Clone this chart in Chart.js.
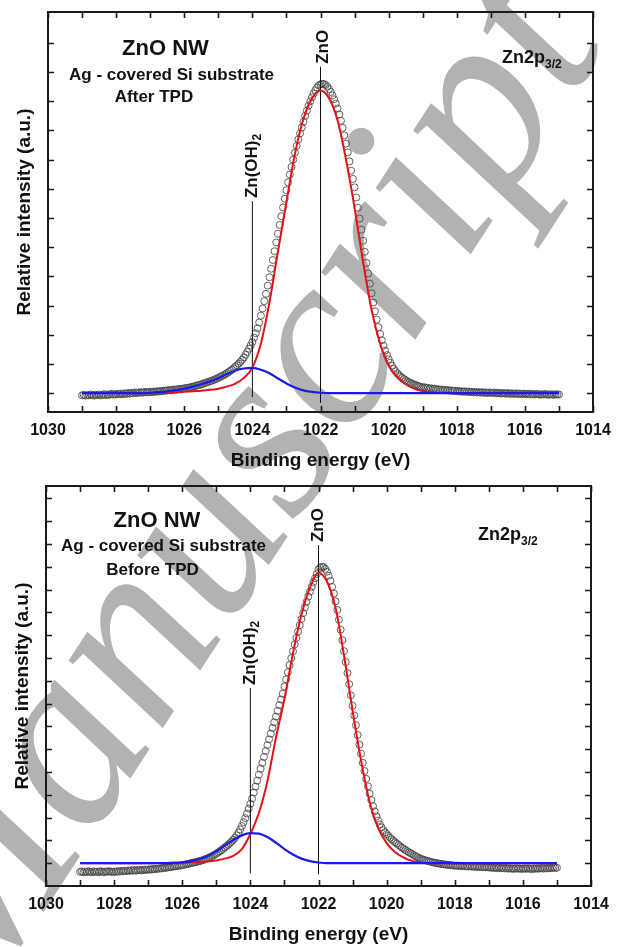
<!DOCTYPE html>
<html>
<head>
<meta charset="utf-8">
<script src="https://cdn.jsdelivr.net/npm/chart.js@4.4.1/dist/chart.umd.min.js"></script>
<style>
  html, body { margin: 0; padding: 0; background: #fff; }
  #page { position: relative; width: 622px; height: 947px; overflow: hidden; }
  #mark { position: absolute; left: 0; top: 0; }
  .box { position: absolute; left: 0; width: 622px; }
  #topBox { top: 0; height: 470px; }
  #botBox { top: 470px; height: 477px; }
</style>
</head>
<body>
<div id="page">
  <canvas id="mark" width="622" height="947"></canvas>
  <div class="box" id="topBox"><canvas id="topChart"></canvas></div>
  <div class="box" id="botBox"><canvas id="botChart"></canvas></div>
</div>
<script>
const FONT = '"Liberation Sans", Arial, sans-serif';

// measured spectrum: one point every 0.05 eV from 1029 eV down to 1015 eV
const scanStart = 1029;
const scanStep = 0.05;

// after TPD (upper panel), rows of 1 eV
const afterCounts = [
  -0.08,-0.06,-0.09,-0.07,-0.08,-0.05,-0.07,-0.09,-0.06,-0.07,-0.05,-0.08,-0.06,-0.04,-0.07,-0.05,-0.06,-0.03,-0.05,-0.04,
  -0.05,-0.03,-0.04,-0.02,-0.04,-0.01,-0.03,0.00,-0.02,0.01,-0.01,0.02,0.00,0.01,0.03,0.01,0.02,0.04,0.02,0.03,
  0.04,0.03,0.05,0.04,0.06,0.05,0.07,0.06,0.08,0.08,0.09,0.10,0.09,0.11,0.12,0.11,0.13,0.14,0.13,0.15,
  0.16,0.17,0.18,0.19,0.20,0.22,0.23,0.25,0.27,0.28,0.30,0.32,0.34,0.36,0.38,0.40,0.42,0.44,0.47,0.49,
  0.52,0.55,0.58,0.61,0.64,0.68,0.72,0.76,0.80,0.85,0.90,0.95,1.01,1.07,1.14,1.22,1.31,1.41,1.52,1.63,
  1.75,1.90,2.05,2.22,2.42,2.65,2.90,3.15,3.40,3.68,3.97,4.26,4.56,4.86,5.16,5.46,5.76,6.06,6.36,6.66,
  6.95,7.22,7.49,7.75,8.00,8.24,8.47,8.69,8.90,9.10,9.30,9.50,9.68,9.85,10.00,10.14,10.27,10.38,10.47,10.54,
  10.58,10.60,10.59,10.56,10.50,10.42,10.32,10.20,10.07,9.92,9.75,9.55,9.33,9.09,8.83,8.55,8.25,7.94,7.62,7.34,
  7.05,6.70,6.35,5.98,5.60,5.22,4.84,4.46,4.10,3.75,3.42,3.10,2.80,2.52,2.26,2.02,1.81,1.62,1.45,1.30,
  1.16,1.04,0.93,0.83,0.75,0.68,0.62,0.57,0.52,0.48,0.44,0.40,0.37,0.34,0.32,0.29,0.27,0.25,0.23,0.21,
  0.19,0.20,0.17,0.18,0.15,0.16,0.14,0.15,0.12,0.13,0.11,0.12,0.10,0.11,0.09,0.10,0.08,0.09,0.07,0.08,
  0.06,0.07,0.05,0.06,0.04,0.06,0.04,0.05,0.03,0.04,0.02,0.04,0.02,0.03,0.01,0.03,0.01,0.02,0.00,0.02,
  0.01,0.00,0.02,-0.01,0.01,0.00,-0.02,0.00,-0.01,-0.02,0.00,-0.03,-0.01,-0.02,-0.03,-0.01,-0.03,-0.02,-0.04,-0.02,
  -0.03,-0.04,-0.02,-0.05,-0.03,-0.04,-0.05,-0.03,-0.04,-0.06,-0.04,-0.05,-0.03,-0.05,-0.06,-0.04,-0.05,-0.06,-0.04,-0.05,
  -0.05
];

// before TPD (lower panel)
const beforeCounts = [
  -0.38,-0.36,-0.40,-0.37,-0.39,-0.35,-0.38,-0.40,-0.36,-0.38,-0.37,-0.39,-0.35,-0.37,-0.40,-0.36,-0.38,-0.35,-0.37,-0.39,
  -0.37,-0.38,-0.35,-0.37,-0.34,-0.36,-0.33,-0.35,-0.32,-0.34,-0.31,-0.33,-0.30,-0.33,-0.31,-0.29,-0.32,-0.30,-0.28,-0.30,
  -0.28,-0.27,-0.28,-0.25,-0.26,-0.24,-0.25,-0.22,-0.23,-0.20,-0.21,-0.19,-0.18,-0.17,-0.16,-0.14,-0.14,-0.12,-0.11,-0.10,
  -0.09,-0.07,-0.05,-0.04,-0.02,0.00,0.02,0.03,0.05,0.07,0.09,0.11,0.13,0.16,0.19,0.22,0.25,0.29,0.33,0.37,
  0.42,0.47,0.52,0.57,0.63,0.69,0.75,0.81,0.88,0.95,1.03,1.12,1.22,1.34,1.48,1.63,1.80,1.98,2.18,2.39,
  2.60,2.84,3.10,3.36,3.62,3.88,4.14,4.40,4.66,4.92,5.18,5.43,5.68,5.93,6.18,6.43,6.68,6.93,7.18,7.43,
  7.75,8.06,8.37,8.68,8.99,9.29,9.59,9.88,10.16,10.44,10.71,10.97,11.22,11.46,11.69,11.91,12.12,12.32,12.50,12.68,
  12.88,12.96,13.00,12.98,12.90,12.78,12.60,12.38,12.12,11.82,11.48,11.10,10.68,10.24,9.78,9.30,8.82,8.34,7.85,7.36,
  6.90,6.48,6.05,5.62,5.20,4.80,4.40,4.04,3.70,3.37,3.05,2.77,2.50,2.27,2.05,1.87,1.70,1.57,1.45,1.36,
  1.28,1.20,1.12,1.05,0.98,0.92,0.86,0.80,0.74,0.68,0.63,0.58,0.53,0.48,0.44,0.40,0.35,0.31,0.27,0.23,
  0.20,0.17,0.15,0.12,0.10,0.08,0.06,0.04,0.02,0.01,-0.01,-0.02,-0.03,-0.05,-0.05,-0.07,-0.07,-0.09,-0.08,-0.10,
  -0.11,-0.10,-0.12,-0.11,-0.13,-0.12,-0.14,-0.13,-0.15,-0.13,-0.15,-0.14,-0.16,-0.15,-0.17,-0.15,-0.17,-0.16,-0.18,-0.17,
  -0.18,-0.20,-0.18,-0.21,-0.19,-0.22,-0.20,-0.22,-0.21,-0.23,-0.21,-0.24,-0.22,-0.24,-0.23,-0.25,-0.22,-0.24,-0.23,-0.25,
  -0.24,-0.23,-0.25,-0.22,-0.24,-0.26,-0.23,-0.25,-0.22,-0.24,-0.23,-0.21,-0.24,-0.22,-0.23,-0.20,-0.22,-0.21,-0.19,-0.21,
  -0.20
];

// fitted components
const fitEnergy = [1029, 1027.5, 1027.25, 1027, 1026.75, 1026.5, 1026.25, 1026, 1025.75, 1025.5,
  1025.25, 1025, 1024.75, 1024.5, 1024.25, 1024, 1023.75, 1023.5, 1023.25, 1023,
  1022.75, 1022.5, 1022.25, 1022, 1021.75, 1021.5, 1021.25, 1021, 1020.75, 1020.5,
  1020.25, 1020, 1019.75, 1019.5, 1019.25, 1019, 1018.75, 1018.5, 1018, 1015];
const afterZnO = [0, 0, 0, 0, 0.005, 0.01, 0.025, 0.04, 0.06, 0.08,
  0.11, 0.15, 0.22, 0.32, 0.52, 0.87, 1.7, 3.1, 4.85, 6.55,
  8.2, 9.4, 10.1, 10.37, 10.1, 9.35, 8.0, 6.35, 4.5, 2.85,
  1.7, 0.95, 0.55, 0.3, 0.15, 0.06, 0.02, 0, 0, 0];
const afterZnOH = [0, 0, 0, 0.01, 0.03, 0.06, 0.1, 0.15, 0.22, 0.3,
  0.4, 0.51, 0.65, 0.77, 0.84, 0.86, 0.8, 0.68, 0.5, 0.33,
  0.19, 0.09, 0.04, 0.01, 0, 0, 0, 0, 0, 0,
  0, 0, 0, 0, 0, 0, 0, 0, 0, 0];
const beforeZnO = [0, 0, 0, 0, 0.005, 0.01, 0.02, 0.03, 0.04, 0.05,
  0.08, 0.12, 0.2, 0.32, 0.62, 1.28, 2.2, 3.6, 5.5, 7.2,
  9.2, 10.9, 12.1, 12.73, 12.35, 11.2, 9.1, 6.7, 4.5, 2.7,
  1.55, 0.88, 0.48, 0.25, 0.1, 0.03, 0, 0, 0, 0];
const beforeZnOH = [0, 0, 0, 0, 0, 0, 0.01, 0.03, 0.08, 0.17,
  0.32, 0.52, 0.77, 1.02, 1.22, 1.32, 1.3, 1.15, 0.9, 0.62,
  0.38, 0.2, 0.09, 0.03, 0, 0, 0, 0, 0, 0,
  0, 0, 0, 0, 0, 0, 0, 0, 0, 0];

// peak position markers: Zn(OH)2, ZnO
const markerEnergy = [1024, 1022];
const markerNames = ['Zn(OH)', 'ZnO'];
const afterMarkerTop = [6.58, 11.18];
const afterMarkerBottom = [-0.14, -0.34];
const beforeMarkerTop = [7.68, 13.95];
const beforeMarkerBottom = [-0.44, -0.48];

const energyTicks = [1030, 1028, 1026, 1024, 1022, 1020, 1018, 1016, 1014];
const afterYTicks = [0, 1, 2, 3, 4, 5, 6, 7, 8, 9, 10, 11, 12];
const beforeYTicks = [0, 1, 2, 3, 4, 5, 6, 7, 8, 9, 10, 11, 12, 13, 14, 15, 16];

function toPoints(xs, ys) {
  return ys.map((v, i) => ({ x: xs[i], y: v }));
}
function scanPoints(ys) {
  return ys.map((v, i) => ({ x: scanStart - i * scanStep, y: v }));
}

function drawText(ctx, t) {
  ctx.font = 'bold ' + t.size + 'px ' + FONT;
  ctx.textAlign = t.align || 'center';
  ctx.fillText(t.text, t.x, t.y);
  if (t.sub) {
    const w = ctx.measureText(t.text).width;
    const left = t.align === 'left' ? t.x + w : t.x + w / 2;
    ctx.font = 'bold ' + t.subSize + 'px ' + FONT;
    ctx.textAlign = 'left';
    ctx.fillText(t.sub, left, t.y + t.drop);
  }
}

const decor = {
  id: 'decor',
  afterDatasetsDraw(chart, args, o) {
    const { ctx, chartArea: a, scales: { x, y } } = chart;
    ctx.save();
    ctx.strokeStyle = '#1a1a1a';
    ctx.lineWidth = 1.6;
    ctx.beginPath();
    for (let e = 1014; e <= 1030; e++) {
      const px = Math.round(x.getPixelForValue(e)) + 0.5;
      ctx.moveTo(px, a.bottom); ctx.lineTo(px, a.bottom - 6);
      ctx.moveTo(px, a.top); ctx.lineTo(px, a.top + 6);
    }
    o.yTicks.forEach(v => {
      const py = Math.round(y.getPixelForValue(v)) + 0.5;
      ctx.moveTo(a.left, py); ctx.lineTo(a.left + 6, py);
      ctx.moveTo(a.right, py); ctx.lineTo(a.right - 6, py);
    });
    ctx.stroke();
    ctx.lineWidth = 2;
    ctx.strokeRect(a.left, a.top, a.right - a.left, a.bottom - a.top);

    ctx.fillStyle = '#111';
    ctx.textBaseline = 'alphabetic';
    o.texts.forEach(t => drawText(ctx, t));

    // axis titles
    ctx.font = 'bold 19px ' + FONT;
    ctx.textAlign = 'center';
    ctx.fillText('Binding energy (eV)', (a.left + a.right) / 2, o.xTitleY);
    ctx.save();
    ctx.translate(o.yTitleX, (a.top + a.bottom) / 2);
    ctx.rotate(-Math.PI / 2);
    ctx.textBaseline = 'middle';
    ctx.fillText('Relative intensity (a.u.)', 0, 0);
    ctx.restore();

    // rotated peak names
    markerEnergy.forEach((e, i) => {
      ctx.save();
      ctx.translate(x.getPixelForValue(e) + o.nameShift[i], y.getPixelForValue(o.markerTop[i]) - 3);
      ctx.rotate(-Math.PI / 2);
      ctx.textBaseline = 'middle';
      ctx.textAlign = 'left';
      ctx.font = 'bold 17px ' + FONT;
      ctx.fillText(markerNames[i], 0, 0);
      if (i === 0) {
        const w = ctx.measureText(markerNames[i]).width;
        ctx.font = 'bold 12px ' + FONT;
        ctx.fillText('2', w, 5);
      }
      ctx.restore();
    });
    ctx.restore();
  }
};

function makeChart(id, p) {
  const datasets = [
    { data: toPoints(fitEnergy, p.znoh), showLine: true, borderColor: 'rgb(26,26,232)', borderWidth: 2.2,
      pointRadius: 0, cubicInterpolationMode: 'monotone', order: 0 },
    { data: toPoints(fitEnergy, p.zno), showLine: true, borderColor: 'rgb(228,18,24)', borderWidth: 2,
      pointRadius: 0, cubicInterpolationMode: 'monotone', order: 1 },
    { data: scanPoints(p.counts), showLine: false, pointRadius: 3.5, pointBorderWidth: 1,
      pointBorderColor: 'rgba(70,70,70,0.85)', pointBackgroundColor: 'rgba(255,255,255,0)', order: 3 }
  ];
  markerEnergy.forEach((e, i) => {
    datasets.push({ data: [{ x: e, y: p.markerBottom[i] }, { x: e, y: p.markerTop[i] }], showLine: true,
      borderColor: '#111', borderWidth: 1, pointRadius: 0, order: 2 });
  });
  return new Chart(document.getElementById(id), {
    type: 'scatter',
    data: { datasets },
    options: {
      responsive: true,
      maintainAspectRatio: false,
      animation: false,
      events: [],
      layout: { padding: p.padding },
      plugins: {
        legend: { display: false },
        tooltip: { enabled: false },
        decor: { yTicks: p.yTicks, texts: p.texts, markerTop: p.markerTop, nameShift: p.nameShift,
          xTitleY: p.xTitleY, yTitleX: p.yTitleX }
      },
      scales: {
        x: {
          type: 'linear', reverse: true, min: 1014, max: 1030,
          afterBuildTicks: s => { s.ticks = energyTicks.map(v => ({ value: v })); },
          afterFit: s => { s.height = p.xHeight; },
          ticks: { font: { family: FONT, size: 16, weight: 'bold' }, color: '#111', padding: p.tickPad,
            maxRotation: 0, autoSkip: false, callback: v => String(v) },
          grid: { display: false, drawTicks: false },
          border: { display: false }
        },
        y: { display: false, min: p.yMin, max: p.yMax }
      }
    },
    plugins: [decor]
  });
}

makeChart('topChart', {
  counts: afterCounts, zno: afterZnO, znoh: afterZnOH,
  markerTop: afterMarkerTop, markerBottom: afterMarkerBottom,
  yTicks: afterYTicks, yMin: -0.65, yMax: 13.06,
  padding: { top: 12, right: 29, left: 48, bottom: 0 }, xHeight: 58, tickPad: 9,
  xTitleY: 466, yTitleX: 25, nameShift: [0, 3],
  texts: [
    { text: 'ZnO NW', x: 165.5, y: 55, size: 22 },
    { text: 'Ag - covered Si substrate', x: 171.5, y: 80, size: 17 },
    { text: 'After TPD', x: 154, y: 102, size: 17 },
    { text: 'Zn2p', x: 502, y: 63, size: 18, align: 'left', sub: '3/2', subSize: 12, drop: 5 }
  ]
});

makeChart('botChart', {
  counts: beforeCounts, zno: beforeZnO, znoh: beforeZnOH,
  markerTop: beforeMarkerTop, markerBottom: beforeMarkerBottom,
  yTicks: beforeYTicks, yMin: -1.0, yMax: 16.54,
  padding: { top: 16, right: 31, left: 46, bottom: 0 }, xHeight: 61, tickPad: 9,
  xTitleY: 470, yTitleX: 23, nameShift: [0, 0],
  texts: [
    { text: 'ZnO NW', x: 157, y: 57, size: 22 },
    { text: 'Ag - covered Si substrate', x: 163.5, y: 81, size: 17 },
    { text: 'Before TPD', x: 152.5, y: 105, size: 17 },
    { text: 'Zn2p', x: 478, y: 70, size: 18, align: 'left', sub: '3/2', subSize: 12, drop: 5 }
  ]
});

// grey "Manuscript" watermark behind both panels
const mk = document.getElementById('mark').getContext('2d');
mk.save();
mk.translate(236, 494);
mk.rotate(-57 * Math.PI / 180);
mk.font = 'italic 252px "Liberation Serif", "DejaVu Serif", serif';
mk.fillStyle = 'rgb(178,178,178)';
mk.textAlign = 'center';
mk.textBaseline = 'middle';
mk.fillText('Manuscript', 0, 0);
mk.restore();
</script>
</body>
</html>
